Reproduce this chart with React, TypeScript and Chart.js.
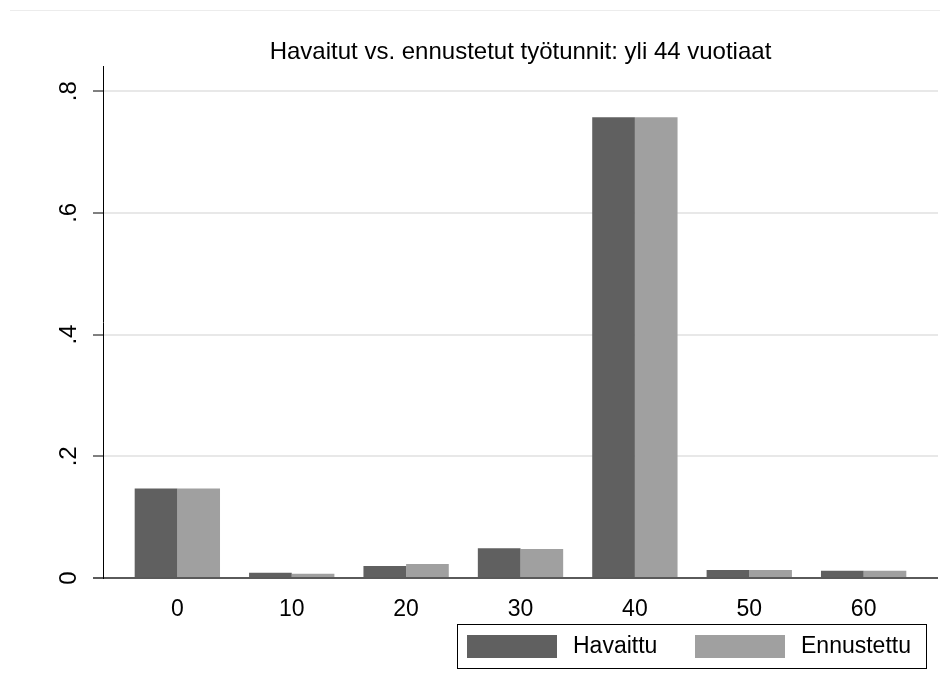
import React, { useEffect, useRef } from "react";
import { Chart, registerables } from "chart.js";

Chart.register(...registerables);

const FONT = "'Liberation Sans', Arial, Helvetica, sans-serif";

const chartTitle = "Havaitut vs. ennustetut työtunnit: yli 44 vuotiaat";
const categories = [0, 10, 20, 30, 40, 50, 60];
const xTickLabels = ["0", "10", "20", "30", "40", "50", "60"];
const seriesLabels = ["Havaittu", "Ennustettu"];
const havaittu = [0.147, 0.0087, 0.0197, 0.0488, 0.757, 0.013, 0.012];
const ennustettu = [0.147, 0.007, 0.023, 0.0476, 0.757, 0.013, 0.012];
const yTickValues = [0, 0.2, 0.4, 0.6, 0.8];
const yTickLabels = ["0", ".2", ".4", ".6", ".8"];

const DARK = "#606060";
const LIGHT = "#a0a0a0";

const customPlugin = {
  id: "customDecor",
  afterDraw(chart: any) {
    const ctx = chart.ctx as CanvasRenderingContext2D;
    const yScale = chart.scales.y;
    ctx.save();
    // faint outer frame line
    ctx.strokeStyle = "#ececec";
    ctx.lineWidth = 1;
    ctx.beginPath();
    ctx.moveTo(10, 10.5);
    ctx.lineTo(940, 10.5);
    ctx.stroke();

    // rotated y tick labels
    ctx.fillStyle = "#000";
    ctx.font = `24px ${FONT}`;
    ctx.textAlign = "center";
    ctx.textBaseline = "middle";
    yTickValues.forEach((v, i) => {
      const py = yScale.getPixelForValue(v);
      ctx.save();
      ctx.translate(69, py);
      ctx.rotate(-Math.PI / 2);
      ctx.fillText(yTickLabels[i], 0, 0);
      ctx.restore();
    });

    // legend box
    const right = chart.chartArea.right - 12;
    const boxW = 469;
    const left = right - boxW;
    const top = 624;
    const h = 44;
    ctx.strokeStyle = "#000";
    ctx.lineWidth = 1;
    ctx.strokeRect(left + 0.5, top + 0.5, boxW, h);
    ctx.font = `23px ${FONT}`;
    ctx.textAlign = "left";
    ctx.textBaseline = "middle";
    const items = chart.data.datasets;
    const offsets = [10, 238];
    items.forEach((ds: any, i: number) => {
      const sx = left + offsets[i];
      ctx.fillStyle = ds.backgroundColor;
      ctx.fillRect(sx, top + 11, 90, 23);
      ctx.fillStyle = "#000";
      ctx.fillText(ds.label, sx + 106, top + h / 2 + 1);
    });
    ctx.restore();
  },
};

export default function App() {
  const canvasRef = useRef<HTMLCanvasElement | null>(null);

  useEffect(() => {
    document.body.style.margin = "0";
    const canvas = canvasRef.current;
    if (!canvas) return;
    const chart = new Chart(canvas, {
      type: "bar",
      data: {
        datasets: [
          {
            label: seriesLabels[0],
            data: categories.map((c, i) => ({ x: c, y: havaittu[i] })),
            backgroundColor: DARK,
            borderWidth: 0,
          },
          {
            label: seriesLabels[1],
            data: categories.map((c, i) => ({ x: c, y: ennustettu[i] })),
            backgroundColor: LIGHT,
            borderWidth: 0,
          },
        ],
      },
      options: {
        animation: false,
        responsive: false,
        maintainAspectRatio: false,
        devicePixelRatio: 1,
        categoryPercentage: 0.746,
        barPercentage: 1,
        layout: { padding: { left: 0, right: 12, top: 0, bottom: 75 } },
        plugins: {
          legend: { display: false },
          tooltip: { enabled: false },
          title: {
            display: true,
            text: chartTitle,
            fullSize: false,
            color: "#000",
            font: { family: FONT, size: 24, weight: "normal" },
            padding: { top: 38, bottom: 0 },
          },
        },
        scales: {
          x: {
            type: "linear",
            min: -6.5,
            max: 66.5,
            offset: false,
            grid: { display: false },
            border: { display: false },
            afterBuildTicks: (scale: any) => {
              scale.ticks = categories.map((v) => ({ value: v }));
            },
            afterFit: (scale: any) => {
              scale.height = 40;
            },
            ticks: {
              color: "#000",
              font: { family: FONT, size: 23 },
              padding: 10,
              maxRotation: 0,
              autoSkip: false,
              callback: (v: any) => {
                const idx = categories.indexOf(Number(v));
                return idx >= 0 ? xTickLabels[idx] : "";
              },
            },
          },
          y: {
            type: "linear",
            min: 0,
            max: 0.84,
            afterBuildTicks: (scale: any) => {
              scale.ticks = yTickValues.map((v) => ({ value: v }));
            },
            afterFit: (scale: any) => {
              scale.width = 103;
            },
            ticks: { display: false },
            grid: {
              drawTicks: true,
              tickLength: 10,
              color: (c: any) => (c.tick && c.tick.value === 0 ? "#5a5a5a" : "#e8e8e8"),
              lineWidth: 2,
              tickColor: (c: any) => (c.tick && c.tick.value === 0 ? "#5a5a5a" : "#000"),
              tickWidth: (c: any) => (c.tick && c.tick.value === 0 ? 2 : 1),
            },
            border: { display: true, color: "#000", width: 1 },
          },
        },
      },
      plugins: [customPlugin],
    });
    return () => chart.destroy();
  }, []);

  return (
    <div style={{ position: "absolute", left: 0, top: 0, width: 950, height: 693, background: "#fff" }}>
      <canvas ref={canvasRef} width={950} height={693} style={{ width: 950, height: 693 }} />
    </div>
  );
}
